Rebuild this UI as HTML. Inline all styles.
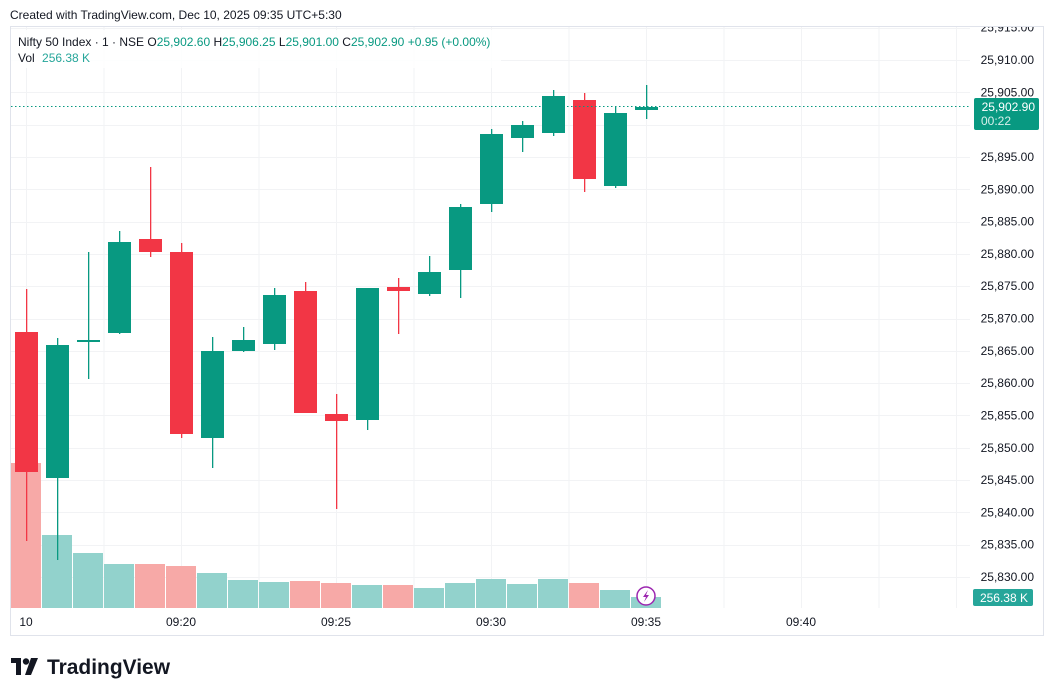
<!DOCTYPE html>
<html><head><meta charset="utf-8"><style>
body{margin:0;background:#fff;width:1054px;height:696px;overflow:hidden;font-family:"Liberation Sans",sans-serif}
svg{position:absolute;left:0;top:0}
</style></head><body>
<svg width="1054" height="696" xmlns="http://www.w3.org/2000/svg" font-family="Liberation Sans, sans-serif">
<defs><clipPath id="cp"><rect x="11" y="27" width="1032" height="580"/></clipPath></defs>
<text x="10" y="19" font-size="12" fill="#131722">Created with TradingView.com, Dec 10, 2025 09:35 UTC+5:30</text>
<rect x="10.5" y="26.5" width="1033" height="609" fill="#fff" stroke="#e0e3eb"/>
<g stroke="#f2f3f5" stroke-width="1" id="hg"></g>
<g id="vg" stroke="#f2f3f5"></g>
<g id="vol"></g>
<g id="cand"></g>
<line x1="11" y1="106.5" x2="970" y2="106.5" stroke="#089981" stroke-dasharray="1.5,2.5"/>
<g id="plab" font-size="12" fill="#131722" text-anchor="end" clip-path="url(#cp)"></g>
<rect x="974" y="98" width="65" height="32" rx="2" fill="#089981"/>
<text x="1035" y="111" font-size="12" fill="#fff" text-anchor="end">25,902.90</text>
<text x="981" y="125" font-size="12" fill="#d7f0eb">00:22</text>
<rect x="973" y="589" width="60" height="17" rx="2" fill="#26a69a"/>
<text x="1028" y="602" font-size="12" fill="#fff" text-anchor="end">256.38 K</text>
<g font-size="12" fill="#131722" text-anchor="middle">
<text x="26" y="626">10</text><text x="181" y="626">09:20</text><text x="336" y="626">09:25</text><text x="491" y="626">09:30</text><text x="646" y="626">09:35</text><text x="801" y="626">09:40</text>
</g>
<circle cx="646" cy="596" r="9" fill="#fff" stroke="#9c27b0" stroke-width="1.5"/>
<path d="M648 590 L643 597 L646 597 L644 602 L649 595 L646 595 Z" fill="#9c27b0"/>
<rect x="11" y="30" width="490" height="38" fill="#fff" opacity="0.85"/>
<text x="18" y="46" font-size="12" fill="#131722">Nifty 50 Index · 1 · NSE  <tspan>O</tspan><tspan fill="#089981">25,902.60</tspan> <tspan>H</tspan><tspan fill="#089981">25,906.25</tspan> <tspan>L</tspan><tspan fill="#089981">25,901.00</tspan> <tspan>C</tspan><tspan fill="#089981">25,902.90</tspan> <tspan fill="#089981">+0.95 (+0.00%)</tspan></text>
<text x="18" y="62" font-size="12" fill="#131722">Vol <tspan fill="#26a69a" dx="4">256.38 K</tspan></text>
<g fill="#131722"><rect x="11" y="658" width="10" height="5"/><rect x="16" y="658" width="5" height="17"/><circle cx="26" cy="661.5" r="3.2"/><path d="M31 658 L38 658 L31 675 L25 675 Z"/></g>
<text x="47" y="674" font-size="21" font-weight="bold" fill="#131722" textLength="123" lengthAdjust="spacingAndGlyphs">TradingView</text>
</svg>
<script>
const ns="http://www.w3.org/2000/svg";
function el(p,t,a){const e=document.createElementNS(ns,t);for(const k in a)e.setAttribute(k,a[k]);document.getElementById(p).appendChild(e);return e;}
for(let p=25915;p>=25830;p-=5){const y=60+(25910-p)*6.4625;
 el('hg','line',{x1:11,x2:970,y1:Math.round(y)+0.5,y2:Math.round(y)+0.5});
 const t=el('plab','text',{x:1034,y:y+4});t.textContent=p.toLocaleString('en-US')+'.00';}
for(let k=0;k<13;k++){const x=26.5+77.5*k;if(x<970)el('vg','line',{x1:x,x2:x,y1:27,y2:608});}
const C=[[0,289,332,472,541],[1,338,345,478,560],[1,252,340,342,379],[1,231,242,333,334],[0,167,239,252,257],[0,243,252,434,438],[1,337,351,438,468],[1,327,340,351,352],[1,288,295,344,350],[0,282,291,413,413],[0,394,414,421,509],[1,288,288,420,430],[0,278,287,291,334],[1,256,272,294,296],[1,204,207,270,298],[1,129,134,204,212],[1,121,125,138,152],[1,90,96,133,136],[0,93,100,179,192],[1,107,113,186,188],[1,85,107,110,119]];
const V=[463,535,553,564,564,566,573,580,582,581,583,585,585,588,583,579,584,579,583,590,597];
C.forEach((c,i)=>{const x=26.5+31*i;const v=V[i];
 const x0=Math.max(11,x-15.5);el('vol','rect',{x:x0,y:v,width:x+15.5-x0-1,height:608-v,fill:c[0]?'#92d2cc':'#f7a9a7'});});
C.forEach((c,i)=>{const x=26.5+31*i;const col=c[0]?'#089981':'#f23645';
 el('cand','rect',{x:x-0.5,y:c[1],width:1.3,height:c[4]-c[1],fill:col});
 el('cand','rect',{x:x-11.5,y:c[2],width:23,height:Math.max(2,c[3]-c[2]),fill:col});});
</script>
</body></html>
